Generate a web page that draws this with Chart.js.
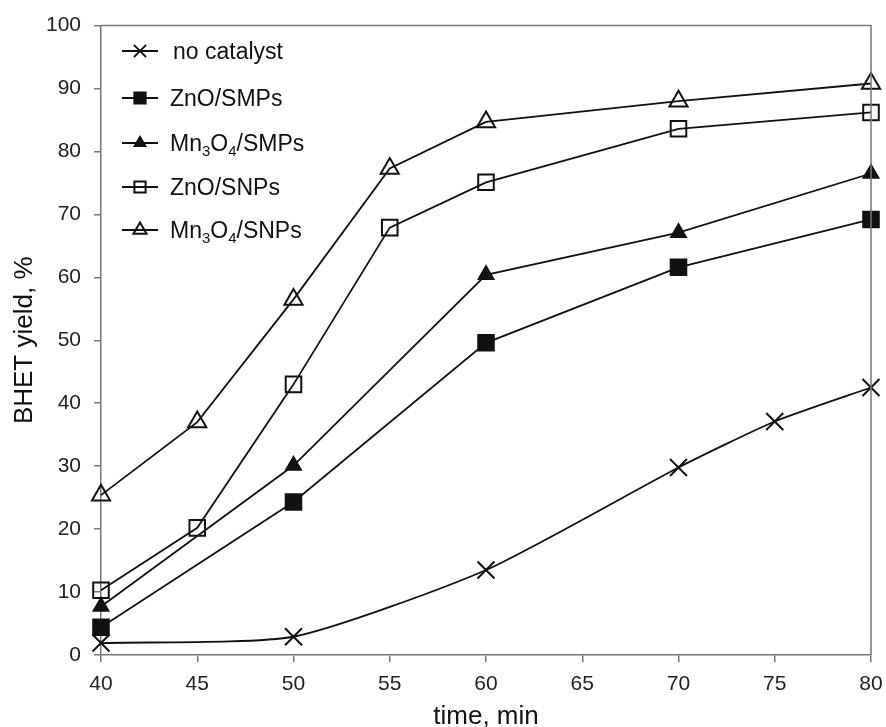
<!DOCTYPE html>
<html>
<head>
<meta charset="utf-8">
<script src="https://cdn.jsdelivr.net/npm/chart.js@4/dist/chart.umd.min.js"></script>
<style>
  html, body { margin: 0; padding: 0; background: #fff; }
  #wrap { width: 886px; height: 727px; }
</style>
</head>
<body>
<div id="wrap"><canvas id="chart" width="886" height="727"></canvas></div>
<script>
// data
const timeNoCat = [40, 50, 60, 70, 75, 80];
const noCatalyst = [1.9, 2.9, 13.5, 29.8, 37.1, 42.5];

const timeSMPs = [40, 50, 60, 70, 80];
const znoSMPs = [4.4, 24.3, 49.6, 61.6, 69.2];
const mnSMPs = [7.7, 30.1, 60.4, 67.1, 76.5];

const timeSNPs = [40, 45, 50, 55, 60, 70, 80];
const znoSNPs = [10.3, 20.2, 43.0, 67.9, 75.1, 83.6, 86.2];
const mnSNPs = [25.4, 37.0, 56.5, 77.3, 84.7, 88.0, 90.8];

const xTicks = [40, 45, 50, 55, 60, 65, 70, 75, 80];

const FONT = "'Liberation Sans', Arial, sans-serif";

function pts(xs, ys) {
  return xs.map((x, i) => ({ x: x, y: ys[i] }));
}

function series(label, xs, ys, style, radius, filled, tension) {
  return {
    label: label,
    data: pts(xs, ys),
    borderColor: '#111',
    borderWidth: 1.8,
    pointStyle: style,
    pointRadius: radius,
    pointHoverRadius: radius,
    pointBorderColor: '#111',
    pointBorderWidth: 2,
    pointBackgroundColor: filled ? '#111' : 'rgba(0,0,0,0)',
    tension: tension,
    clip: false,
    fill: false
  };
}

// legend with line + marker, subscripts drawn smaller
const legendPlugin = {
  id: 'boxLegend',
  afterDraw(chart) {
    const ctx = chart.ctx;
    const x0 = 122, x1 = 158, tx = 170;
    const rows = [51, 98, 143, 187, 230];
    chart.data.datasets.forEach((ds, i) => {
      const y = rows[i];
      ctx.save();
      ctx.strokeStyle = '#111';
      ctx.lineWidth = 1.8;
      ctx.beginPath();
      ctx.moveTo(x0, y);
      ctx.lineTo(x1, y);
      ctx.stroke();
      ctx.fillStyle = ds.pointBackgroundColor;
      ctx.strokeStyle = '#111';
      ctx.lineWidth = 2;
      Chart.helpers.drawPoint(ctx, {
        pointStyle: ds.pointStyle,
        radius: ds.pointRadius * 0.72,
        rotation: 0,
        borderWidth: 2
      }, (x0 + x1) / 2, y);
      ctx.fillStyle = '#111';
      ctx.textBaseline = 'alphabetic';
      let x = i === 0 ? tx + 3 : tx;
      const base = y + 8;
      for (const ch of ds.label) {
        const code = ch.charCodeAt(0);
        if (code >= 0x2080 && code <= 0x2089) {
          const d = String(code - 0x2080);
          ctx.font = '15px ' + FONT;
          ctx.fillText(d, x, base + 5);
          x += ctx.measureText(d).width;
        } else {
          ctx.font = '23px ' + FONT;
          ctx.fillText(ch, x, base);
          x += ctx.measureText(ch).width;
        }
      }
      ctx.restore();
    });
  }
};

const framePlugin = {
  id: 'frame',
  afterDatasetsDraw(chart) {
    const a = chart.chartArea;
    const ctx = chart.ctx;
    ctx.save();
    ctx.strokeStyle = '#777';
    ctx.lineWidth = 1.5;
    ctx.beginPath();
    ctx.moveTo(a.left, a.top);
    ctx.lineTo(a.right, a.top);
    ctx.lineTo(a.right, a.bottom);
    ctx.stroke();
    ctx.restore();
  }
};

const config = {
  type: 'line',
  data: {
    datasets: [
      series('no catalyst', timeNoCat, noCatalyst, 'crossRot', 12, false, 0.2),
      series('ZnO/SMPs', timeSMPs, znoSMPs, 'rect', 11, true, 0),
      series('Mn\u2083O\u2084/SMPs', timeSMPs, mnSMPs, 'triangle', 8.5, true, 0),
      series('ZnO/SNPs', timeSNPs, znoSNPs, 'rect', 11, false, 0),
      series('Mn\u2083O\u2084/SNPs', timeSNPs, mnSNPs, 'triangle', 10.5, false, 0)
    ]
  },
  options: {
    responsive: false,
    animation: false,
    layout: { padding: { left: 0, top: 25, right: 15, bottom: 0 } },
    plugins: {
      legend: { display: false },
      tooltip: { enabled: false }
    },
    scales: {
      x: {
        type: 'linear',
        min: 40,
        max: 80,
        afterBuildTicks: (scale) => { scale.ticks = xTicks.map(v => ({ value: v })); },
        afterFit: (scale) => { scale.height = 72; scale.paddingRight = 0; scale.paddingLeft = 0; },
        grid: { drawOnChartArea: false, drawTicks: true, tickLength: 7, color: '#777', lineWidth: 1.5 },
        border: { display: true, color: '#777', width: 1.5 },
        ticks: { color: '#222', padding: 10, font: { family: FONT, size: 21 }, maxRotation: 0 },
        title: { display: true, text: 'time, min', color: '#111', font: { family: FONT, size: 26, lineHeight: 0.8 }, padding: { top: 0, bottom: 0 } }
      },
      y: {
        min: 0,
        max: 100,
        ticks: { stepSize: 10, color: '#222', padding: 13, font: { family: FONT, size: 21 } },
        afterFit: (scale) => { scale.width = 101; },
        grid: { drawOnChartArea: false, drawTicks: true, tickLength: 7, color: '#777', lineWidth: 1.5 },
        border: { display: true, color: '#777', width: 1.5 },
        title: { display: true, text: 'BHET yield, %', color: '#111', font: { family: FONT, size: 26, lineHeight: 1 }, padding: { top: 12, bottom: 0 } }
      }
    }
  },
  plugins: [framePlugin, legendPlugin]
};

new Chart(document.getElementById('chart').getContext('2d'), config);
</script>
</body>
</html>
